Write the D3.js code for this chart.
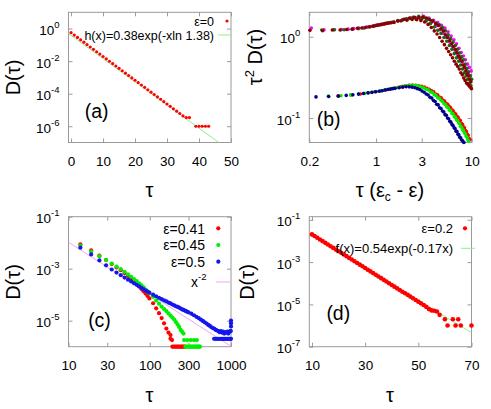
<!DOCTYPE html>
<html><head><meta charset="utf-8">
<script src="https://cdn.jsdelivr.net/npm/d3@7"></script>
<style>
body{margin:0;background:#fff}
svg{display:block}
text{font-family:"Liberation Sans",Arial,Helvetica,sans-serif;fill:#000}
</style>
</head><body>
<svg id="chart" width="491" height="409"></svg>
<script>
// ---------------- DATA ----------------
// Panel (a): epsilon = 0
const tauA = [0,1,2,3,4,5,6,7,8,9,10,11,12,13,14,15,16,17,18,19,20,21,22,23,24,25,26,27,28,29,30,31,32,33,34,35,36,37,39,40,41,42,43];
const valA = [0.556,0.397,0.284,0.203,0.145,0.1035,0.074,0.0528,0.0378,0.027,0.0193,0.01377,0.00984,0.00703,0.00502,0.00359,0.00256,0.00183,0.00131,0.000935,0.000668,0.000478,0.000341,0.000244,0.000174,0.000124,8.9e-5,6.35e-5,4.54e-5,3.24e-5,2.32e-5,1.66e-5,1.18e-5,8.45e-6,6.04e-6,4.3e-6,3.4e-6,3.4e-6,1e-6,1e-6,1e-6,1e-6,1e-6];
const fitA_x = [-0.8, 46.2];
const fitA_y = [0.49, 1e-7];

// Panel (b): scaled data  x = tau*(eps_c - eps), y = tau^2 D(tau)
const bMagenta = [[0.21,1.28],[0.285,1.22],[0.36,1.22],[0.435,1.23],[0.51,1.24],[0.585,1.26],[0.66,1.28],[0.735,1.29],[0.81,1.32],[0.885,1.34],[0.96,1.36],[1.035,1.39],[1.11,1.41],[1.185,1.43],[1.26,1.46],[1.335,1.48],[1.41,1.50],[1.47,1.51],[1.68,1.58],[1.89,1.62],[2.10,1.66],[2.31,1.70],[2.52,1.72],[2.73,1.74],[2.94,1.70],[3.15,1.78],[3.36,1.62],[3.57,1.70],[3.78,1.50],[3.99,1.60],[4.20,1.35],[4.41,1.50],[4.62,1.22],[4.83,1.38],[5.04,1.10],[5.25,1.28],[5.46,0.98],[5.67,1.15],[5.88,0.86],[6.09,1.02],[6.30,0.76],[6.51,0.92],[6.72,0.68],[6.93,0.82],[7.14,0.60],[7.35,0.72],[7.56,0.55],[7.77,0.64],[7.98,0.49],[8.19,0.58],[8.40,0.44],[8.61,0.52],[8.82,0.40],[9.03,0.46],[9.24,0.36],[9.45,0.42],[9.66,0.33],[9.87,0.38]];
const bDkGreen = [[0.27,1.21],[0.367,1.22],[0.463,1.22],[0.56,1.24],[0.656,1.26],[0.753,1.28],[0.849,1.32],[0.946,1.35],[1.042,1.39],[1.139,1.42],[1.235,1.45],[1.332,1.48],[1.428,1.50],[1.53,1.53],[1.71,1.57],[1.89,1.61],[2.07,1.66],[2.25,1.68],[2.43,1.73],[2.61,1.66],[2.79,1.78],[2.97,1.64],[3.15,1.72],[3.33,1.56],[3.51,1.66],[3.69,1.45],[3.87,1.58],[4.05,1.32],[4.23,1.48],[4.41,1.20],[4.59,1.40],[4.77,1.10],[4.95,1.30],[5.13,0.98],[5.31,1.18],[5.49,0.88],[5.67,1.06],[5.85,0.78],[6.03,0.95],[6.21,0.70],[6.39,0.86],[6.57,0.62],[6.75,0.78],[6.93,0.55],[7.11,0.70],[7.29,0.50],[7.47,0.63],[7.65,0.45],[7.83,0.57],[8.01,0.40],[8.19,0.52],[8.37,0.36],[8.55,0.46],[8.73,0.33],[8.91,0.41],[9.09,0.30],[9.27,0.37],[9.45,0.27],[9.63,0.33],[9.81,0.25],[9.99,0.30]];
const bMaroon = [[0.203,1.20],[0.276,1.19],[0.348,1.21],[0.42,1.21],[0.493,1.23],[0.566,1.24],[0.638,1.27],[0.71,1.28],[0.783,1.31],[0.856,1.33],[0.928,1.35],[1.0,1.38],[1.073,1.40],[1.146,1.42],[1.218,1.44],[1.29,1.46],[1.363,1.48],[1.436,1.49],[1.54,1.50],[1.68,1.56],[1.82,1.57],[1.96,1.64],[2.10,1.60],[2.24,1.70],[2.38,1.63],[2.52,1.74],[2.66,1.62],[2.80,1.72],[2.94,1.58],[3.08,1.75],[3.22,1.52],[3.36,1.70],[3.50,1.42],[3.64,1.62],[3.78,1.30],[3.92,1.55],[4.06,1.18],[4.20,1.45],[4.34,1.08],[4.48,1.38],[4.62,0.98],[4.76,1.25],[4.90,0.88],[5.04,1.18],[5.18,0.80],[5.32,1.06],[5.46,0.72],[5.60,0.98],[5.74,0.66],[5.88,0.90],[6.02,0.60],[6.16,0.82],[6.30,0.55],[6.44,0.76],[6.58,0.50],[6.72,0.70],[6.86,0.46],[7.00,0.64],[7.14,0.43],[7.28,0.58],[7.42,0.40],[7.56,0.54],[7.70,0.36],[7.84,0.50],[7.98,0.34],[8.12,0.45],[8.26,0.31],[8.40,0.42],[8.54,0.29],[8.68,0.38],[8.82,0.27],[8.96,0.35],[9.10,0.26],[9.24,0.33],[9.38,0.25],[9.52,0.30],[9.66,0.24],[9.80,0.28],[9.94,0.23]];
const bRed = [[0.40,0.188],[0.543,0.192],[0.686,0.198],[0.829,0.204],[0.972,0.211],[1.115,0.216],[1.258,0.222],[1.401,0.227],[1.544,0.233],[1.687,0.238],[1.80,0.242],[2.00,0.248],[2.20,0.252],[2.40,0.254],[2.60,0.253],[2.80,0.25],[3.00,0.245],[3.20,0.24],[3.40,0.232],[3.60,0.226],[3.80,0.216],[4.00,0.21],[4.20,0.198],[4.40,0.193],[4.60,0.181],[4.80,0.177],[5.00,0.166],[5.20,0.162],[5.40,0.152],[5.60,0.148],[5.80,0.139],[6.00,0.135],[6.20,0.126],[6.40,0.123],[6.60,0.115],[6.80,0.112],[7.00,0.105],[7.20,0.102],[7.40,0.095],[7.60,0.093],[7.80,0.086],[8.00,0.084],[8.20,0.078],[8.40,0.076],[8.60,0.070],[8.80,0.068],[9.00,0.063],[9.20,0.061],[9.40,0.056],[9.60,0.054]];
const bGreen = [[0.316,0.186],[0.429,0.188],[0.542,0.192],[0.655,0.197],[0.768,0.202],[0.881,0.206],[0.994,0.212],[1.107,0.216],[1.22,0.221],[1.333,0.226],[1.446,0.23],[1.559,0.234],[1.672,0.238],[1.71,0.239],[1.89,0.245],[2.07,0.249],[2.25,0.252],[2.43,0.253],[2.61,0.251],[2.79,0.247],[2.97,0.240],[3.15,0.236],[3.33,0.226],[3.51,0.222],[3.69,0.210],[3.87,0.206],[4.05,0.194],[4.23,0.190],[4.41,0.178],[4.59,0.175],[4.77,0.164],[4.95,0.160],[5.13,0.150],[5.31,0.147],[5.49,0.137],[5.67,0.134],[5.85,0.125],[6.03,0.123],[6.21,0.114],[6.39,0.112],[6.57,0.104],[6.75,0.102],[6.93,0.095],[7.11,0.093],[7.29,0.087],[7.47,0.085],[7.65,0.079],[7.83,0.077],[8.01,0.072],[8.19,0.070],[8.37,0.066],[8.55,0.064],[8.73,0.060],[8.91,0.058],[9.09,0.054],[9.27,0.052]];
const bBlue = [[0.235,0.182],[0.319,0.184],[0.403,0.186],[0.487,0.19],[0.571,0.193],[0.655,0.197],[0.739,0.20],[0.823,0.204],[0.907,0.207],[0.991,0.211],[1.075,0.214],[1.159,0.217],[1.243,0.221],[1.327,0.224],[1.411,0.227],[1.495,0.23],[1.58,0.232],[1.74,0.236],[1.90,0.24],[2.06,0.243],[2.22,0.242],[2.38,0.240],[2.54,0.236],[2.70,0.230],[2.86,0.224],[3.02,0.215],[3.18,0.208],[3.34,0.198],[3.50,0.192],[3.66,0.180],[3.82,0.176],[3.98,0.164],[4.14,0.160],[4.30,0.148],[4.46,0.145],[4.62,0.134],[4.78,0.131],[4.94,0.122],[5.10,0.119],[5.26,0.110],[5.42,0.108],[5.58,0.100],[5.74,0.098],[5.90,0.091],[6.06,0.089],[6.22,0.083],[6.38,0.081],[6.54,0.076],[6.70,0.074],[6.86,0.069],[7.02,0.068],[7.18,0.063],[7.34,0.062],[7.50,0.058],[7.66,0.057],[7.82,0.054],[7.98,0.053],[8.14,0.051],[8.30,0.050]];

// Panel (c): three epsilons
const tauC = [14,19,24,29,34,39,44,49,54,59,64,69,74,79,84,89,94,99,110,120,130,140,150,160,170,180,190,200,210,220,230,240,250,260,270,280,290,300,325,350,375,400,425,450,475,500,525,550,575,600,625,650,675,700,725,750,775,800,825,850,875,900,925,950,975,1000];
const valC041 = [0.00871,0.00513,0.00316,0.00214,0.00151,0.00112,0.000871,0.000676,0.000525,0.000417,0.000331,0.000263,0.000209,0.000166,0.000135,0.00011,8.9e-5,7.2e-5,4.7e-5,3.0e-5,1.95e-5,1.26e-5,7.9e-6,5.0e-6,3.5e-6,2.8e-6];
const valC045 = [0.00776,0.00457,0.00302,0.00214,0.00158,0.0012,0.000955,0.000759,0.000603,0.00049,0.000398,0.000331,0.000275,0.000229,0.000191,0.000158,0.000132,0.000112,8.3e-5,6.0e-5,4.5e-5,3.5e-5,2.8e-5,2.34e-5,1.9e-5,1.58e-5,1.32e-5,1.1e-5,8.9e-6,7.2e-6,5.75e-6,4.4e-6,3.8e-6,3.2e-6];
const valC050 = [0.00646,0.00355,0.00209,0.00135,0.000933,0.000708,0.000562,0.000457,0.00038,0.000324,0.000275,0.00024,0.000209,0.000182,0.000162,0.000145,0.000132,0.00012,0.0001,8.7e-5,7.6e-5,6.8e-5,6.0e-5,5.5e-5,5.0e-5,4.6e-5,4.2e-5,3.9e-5,3.6e-5,3.4e-5,3.2e-5,2.95e-5,2.75e-5,2.6e-5,2.45e-5,2.35e-5,2.2e-5,2.1e-5,1.86e-5,1.62e-5,1.41e-5,1.26e-5,1.1e-5,9.8e-6,8.7e-6,7.8e-6,6.9e-6,6.3e-6,5.6e-6,5.2e-6,4.9e-6,4.4e-6,4.2e-6,4.0e-6,3.6e-6,4.0e-6,3.5e-6,3.8e-6,3.2e-6,3.6e-6,3.5e-6,3.8e-6,3.2e-6,3.6e-6,4.0e-6,1.0e-5];
// low-count tails (tau, value)
const tailC041 = [[180,2e-6],[188,1.8e-6],[190,1e-6],[198,1e-6],[206,1e-6],[214,1e-6],[222,1e-6],[230,1e-6],[238,1e-6],[246,1e-6],[254,1e-6],[262,1e-6],[270,1e-6]];
const tailC045 = [[265,1.8e-6],[290,1.8e-6],[320,1.8e-6],[350,1.8e-6],[380,1.8e-6],[275,1e-6],[285,1e-6],[295,1e-6],[305,1e-6],[315,1e-6],[325,1e-6],[335,1e-6],[345,1e-6],[355,1e-6],[365,1e-6],[375,1e-6],[385,1e-6],[395,1e-6],[405,1e-6],[415,1e-6]];
const tailC050 = [[620,2e-6],[650,2e-6],[680,2e-6],[710,2e-6],[740,2e-6],[770,2e-6],[800,2e-6],[830,2e-6],[860,2e-6],[890,2e-6],[920,2e-6],[950,2e-6],[980,2e-6],[1000,2e-6],[1000,6e-6],[1000,8e-6],[995,4e-6]];
const powC_x = [10, 1000];
const powC_y = [0.0104, 1.04e-6];

// Panel (d): epsilon = 0.2
const tauD = [10,11,12,13,14,15,16,17,18,19,20,21,22,23,24,25,26,27,28,29,30,31,32,33,34,35,36,37,38,39,40,41,42,43,44,45,46,47,48,49,50,51,52,53,54,55,56,57,58,60,61,63,64,65,66,70];
const valD = [0.0204,0.017,0.0141,0.0117,0.00977,0.00813,0.00676,0.00562,0.00468,0.00389,0.00324,0.00275,0.00229,0.00191,0.00158,0.00132,0.0011,0.000912,0.000759,0.000631,0.000525,0.000437,0.000363,0.000302,0.000251,0.000209,0.000174,0.000145,0.00012,0.0001,8.3e-5,6.9e-5,5.75e-5,4.8e-5,3.98e-5,3.39e-5,2.82e-5,2.34e-5,1.95e-5,1.62e-5,1.35e-5,1.12e-5,9.3e-6,7.6e-6,6.0e-6,5.2e-6,5.0e-6,4.6e-6,3.2e-6,2e-6,1e-6,2e-6,1e-6,2e-6,1e-6,1e-6];
const fitD_x = [10, 70];
const fitD_y = [0.0178, 4.6e-7];

// tick values
const ticksAx = [0,10,20,30,40,50];
const ticksAy = [1,1e-2,1e-4,1e-6];
const ticksBx = [0.2,1,3,10];
const ticksBy = [1,0.1];
const ticksCx = [10,30,100,300,1000];
const ticksCy = [0.1,1e-3,1e-5];
const ticksDx = [10,30,50,70];
const ticksDy = [0.1,1e-3,1e-5,1e-7];

// ---------------- DRAWING ----------------
const svg = d3.select('#chart');
const FRAME = '#9a9a9a';

function sup(sel, d) {
  const e = Math.round(Math.log10(d));
  sel.text('10');
  sel.append('tspan').attr('dy', -7).attr('font-size', 9.5).text(String(e));
}

function panel(o) {
  const g = svg.append('g');
  const x = (o.xlog ? d3.scaleLog() : d3.scaleLinear()).domain(o.xd).range([o.x0, o.x1]);
  const y = d3.scaleLog().domain(o.yd).range([o.y1, o.y0]);
  const xa = g.append('g').attr('transform', `translate(0,${o.y1})`)
    .call(d3.axisBottom(x).tickValues(o.xt).tickSizeInner(-4).tickSizeOuter(0).tickPadding(14).tickFormat(d => String(d)));
  const xt = g.append('g').attr('transform', `translate(0,${o.y0})`)
    .call(d3.axisTop(x).tickValues(o.xt).tickSizeInner(-4).tickSizeOuter(0).tickFormat(''));
  const ya = g.append('g').attr('transform', `translate(${o.x0},0)`)
    .call(d3.axisLeft(y).tickValues(o.yt).tickSizeInner(-4).tickSizeOuter(0).tickPadding(9));
  const yr = g.append('g').attr('transform', `translate(${o.x1},0)`)
    .call(d3.axisRight(y).tickValues(o.yt).tickSizeInner(-4).tickSizeOuter(0).tickFormat(''));
  [xa, xt, ya, yr].forEach(a => {
    a.select('.domain').remove();
    a.selectAll('line').attr('stroke', FRAME);
    a.selectAll('text').attr('font-size', 13.5).attr('fill', '#000')
      .attr('font-family', '"Liberation Sans",Arial,sans-serif');
  });
  ya.selectAll('.tick text').attr('dy', '0.45em').each(function(d){ sup(d3.select(this), d); });
  g.append('rect').attr('x', o.x0).attr('y', o.y0).attr('width', o.x1 - o.x0).attr('height', o.y1 - o.y0)
    .attr('fill', 'none').attr('stroke', FRAME).attr('stroke-width', 1);
  return {g, x, y};
}

function dots(p, data, color, r) {
  p.g.append('g').selectAll('circle').data(data).join('circle')
    .attr('cx', d => p.x(d[0])).attr('cy', d => p.y(d[1])).attr('r', r).attr('fill', color);
}
function fitLine(p, xs, ys, color) {
  const pts = xs.map((v, i) => [v, ys[i]]);
  p.g.append('path').datum(pts)
    .attr('d', d3.line().x(d => p.x(d[0])).y(d => p.y(d[1])))
    .attr('fill', 'none').attr('stroke', color).attr('stroke-width', 1);
}
function label(txt, x, y, size, anchor) {
  return svg.append('text').attr('x', x).attr('y', y).attr('font-size', size)
    .attr('text-anchor', anchor || 'middle').text(txt);
}
function yLabel(cx, cy, build) {
  const t = svg.append('text').attr('transform', `translate(${cx},${cy}) rotate(-90)`)
    .attr('text-anchor', 'middle').attr('dy', '0.35em').attr('font-size', 20);
  build(t);
}

// ---- panel (a)
const pa = panel({x0:68.5, x1:231, y0:12.3, y1:142.5, xd:[-0.8,50], yd:[1e-7,10], xlog:false, xt:ticksAx, yt:ticksAy});
fitLine(pa, fitA_x, fitA_y, '#90ee90');
dots(pa, tauA.map((t,i)=>[t, valA[i]]), '#ff0000', 1.6);
label('ε=0', 214, 26, 12.5, 'end');
label('h(x)=0.38exp(-xln 1.38)', 214, 39.5, 12.5, 'end');
svg.append('circle').attr('cx', 227).attr('cy', 21).attr('r', 1.6).attr('fill', '#ff0000');
svg.append('line').attr('x1', 218).attr('x2', 231).attr('y1', 35).attr('y2', 35).attr('stroke', '#90ee90');
label('(a)', 96.7, 117.5, 19.5);
yLabel(12.5, 77.5, t => t.text('D(τ)'));
label('τ', 149.5, 197, 20);

// ---- panel (b)
const pb = panel({x0:309.3, x1:471.7, y0:12.3, y1:142.5, xd:[0.2,10], yd:[0.05,2], xlog:true, xt:ticksBx, yt:ticksBy});
dots(pb, bMagenta, '#ff00ff', 1.8);
dots(pb, bDkGreen, '#107010', 1.8);
dots(pb, bMaroon, '#8b0000', 1.8);
dots(pb, bRed, '#ff0000', 1.8);
dots(pb, bGreen, '#00ee00', 1.8);
dots(pb, bBlue, '#00008b', 1.8);
label('(b)', 328.7, 126, 19.5);
yLabel(255, 57, t => {
  t.append('tspan').text('τ');
  t.append('tspan').attr('dy', -8).attr('font-size', 13).text('2');
  t.append('tspan').attr('dy', 8).text(' D(τ)');
});
const xlb = label('', 390, 197, 20);
xlb.append('tspan').text('τ (ε');
xlb.append('tspan').attr('dy', 4).attr('font-size', 12).text('c');
xlb.append('tspan').attr('dy', -4).text(' - ε)');

// ---- panel (c)
const pc = panel({x0:68.5, x1:231, y0:216.7, y1:346.7, xd:[10,1000], yd:[1e-6,0.1], xlog:true, xt:ticksCx, yt:ticksCy});
fitLine(pc, powC_x, powC_y, '#f4a6f4');
const sC1 = valC041.map((v,i)=>[tauC[i], v]).concat(tailC041);
const sC2 = valC045.map((v,i)=>[tauC[i], v]).concat(tailC045);
const sC3 = valC050.map((v,i)=>[tauC[i], v]).concat(tailC050);
dots(pc, sC1, '#ff0000', 2.1);
dots(pc, sC2, '#00ee00', 2.1);
dots(pc, sC3, '#1515ee', 2.1);
label('ε=0.41', 205, 233.5, 14, 'end');
label('ε=0.45', 205, 250, 14, 'end');
label('ε=0.5', 205, 266.5, 14, 'end');
label('x', 198, 287, 14, 'end');
svg.append('text').attr('x', 198).attr('y', 280).attr('font-size', 9.5).text('-2');
svg.append('circle').attr('cx', 218.3).attr('cy', 228.3).attr('r', 2.1).attr('fill', '#ff0000');
svg.append('circle').attr('cx', 218.3).attr('cy', 245).attr('r', 2.1).attr('fill', '#00ee00');
svg.append('circle').attr('cx', 218.3).attr('cy', 261.7).attr('r', 2.1).attr('fill', '#1515ee');
svg.append('line').attr('x1', 216).attr('x2', 231).attr('y1', 282).attr('y2', 282).attr('stroke', '#f4a6f4');
label('(c)', 99.5, 327, 19.5);
yLabel(12.5, 282, t => t.text('D(τ)'));
label('τ', 149.5, 402, 20);

// ---- panel (d)
const pd = panel({x0:309.3, x1:471.5, y0:216.7, y1:346.7, xd:[9,70], yd:[1e-7,0.14], xlog:false, xt:ticksDx, yt:ticksDy});
fitLine(pd, fitD_x, fitD_y, '#90ee90');
dots(pd, tauD.map((t,i)=>[t, valD[i]]), '#ff0000', 2.3);
label('ε=0.2', 453, 233, 13, 'end');
label('f(x)=0.54exp(-0.17x)', 453, 253, 13, 'end');
svg.append('circle').attr('cx', 465).attr('cy', 228.3).attr('r', 2.1).attr('fill', '#ff0000');
svg.append('line').attr('x1', 461).attr('x2', 475).attr('y1', 248.3).attr('y2', 248.3).attr('stroke', '#90ee90');
label('(d)', 338.3, 320, 19.5);
yLabel(247, 282, t => t.text('D(τ)'));
label('τ', 390, 402, 20);
</script>
</body></html>
